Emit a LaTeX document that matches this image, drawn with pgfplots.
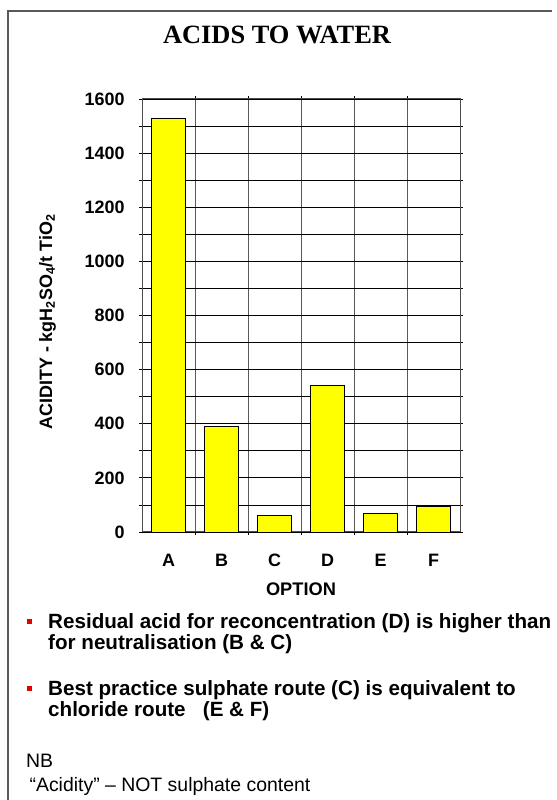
\documentclass[border=0pt]{standalone}
\usepackage{pgfplots}
\pgfplotsset{compat=1.18}
\usepackage{fontspec}
\setmainfont{Liberation Sans}
\newfontfamily\titlefont{Liberation Serif}
\definecolor{baryellow}{RGB}{255,255,0}
\definecolor{bulletred}{RGB}{230,0,0}
\begin{document}
\begin{tikzpicture}[x=1bp,y=1bp]
\useasboundingbox (0,0) rectangle (557,800);
\draw[line width=2bp, black!65] (8,0) -- (8,789) -- (552,789);
\node[font=\titlefont\bfseries\fontsize{26.5}{30}\selectfont, anchor=base, inner sep=0] at (277,756) {ACIDS TO WATER};
\begin{axis}[
  at={(142bp,268bp)}, anchor=south west,
  scale only axis, width=318bp, height=433bp,
  xmin=-0.5, xmax=5.5, ymin=0, ymax=1600,
  ybar, bar width=34bp,
  xtick={0,1,2,3,4,5},
  xticklabels={A,B,C,D,E,F},
  minor xtick={0.5,1.5,2.5,3.5,4.5},
  ytick={0,200,...,1600},
  minor ytick={100,300,...,1500},
  major x tick style={draw=none},
  tick align=outside,
  major tick length=3bp, minor tick length=3bp,
  every tick/.style={black, line width=0.8bp},
  xminorgrids=true, ymajorgrids=true, yminorgrids=true,
  major grid style={black, line width=0.8bp},
  minor grid style={black, line width=0.8bp},
  minor x grid style={black!65, line width=0.9bp},
  axis line style={black!70, line width=1bp},
  /pgf/number format/assume math mode=true,
  /pgf/number format/1000 sep={},
  tick label style={font=\bfseries\fontsize{18}{21}\selectfont},
  xticklabel style={text height=13bp, text depth=0bp, yshift=-15bp},
  yticklabel style={xshift=-11bp},
]
\addplot[fill=baryellow, draw=black, line width=0.8bp] coordinates {
 (0,1530) (1,389) (2,62) (3,540) (4,69) (5,96)
};
\end{axis}
\node[rotate=90, font=\bfseries\fontsize{18}{21}\selectfont, inner sep=0] at (47.5,478) {ACIDITY - kgH\textsubscript{2}SO\textsubscript{4}/t TiO\textsubscript{2}};
\node[font=\bfseries\fontsize{18.3}{21}\selectfont, anchor=base, inner sep=0] at (301,204) {OPTION};
\fill[bulletred] (27.3,176.3) rectangle (31.7,180.7);
\fill[bulletred] (27.3,109.3) rectangle (31.7,113.7);
\begin{scope}[every node/.style={anchor=base west, inner sep=0, font=\bfseries\fontsize{20.7}{24}\selectfont}]
\node at (48,171) {Residual acid for reconcentration (D) is higher than};
\node at (48,150) {for neutralisation (B \& C)};
\node at (48,104) {Best practice sulphate route (C) is equivalent to};
\node at (48,83) {chloride route\ \ \ (E \& F)};
\end{scope}
\begin{scope}[every node/.style={anchor=base west, inner sep=0, font=\fontsize{19.5}{23}\selectfont}]
\node at (26,32) {NB};
\node at (24,8) {\ “Acidity” – NOT sulphate content};
\end{scope}
\end{tikzpicture}
\end{document}
